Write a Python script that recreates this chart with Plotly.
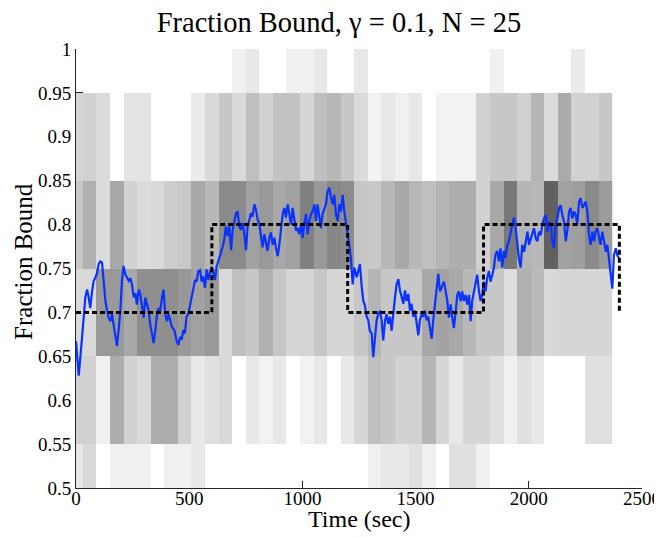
import plotly.graph_objects as go

# ---- heatmap data (occupancy density per time bin / fraction-bound bin) ----
bin_times = [60 * i for i in range(40)]          # bin centers (sec)
bound_levels = [0.5, 0.6, 0.7, 0.8, 0.9, 1.0]     # fraction-bound bin centers
N = None
dens_050 = [0.09, 0.15, N, 0.06, 0.06, 0.06, 0, 0.06, 0.06, 0.09,
            0, N, N, N, N, N, N, N, N, N,
            N, N, 0.06, 0.09, 0.09, 0.12, 0.06, 0, 0.12, 0.12,
            0.06, N, N, N, N, N, N, N, N, N]
dens_060 = [0.18, 0.18, 0.06, 0.32, 0.18, 0.15, 0.32, 0.32, 0.18, 0.09,
            0.12, 0.15, 0, 0.09, 0.05, 0.09, 0, 0.05, 0.09, 0,
            0.09, 0.16, 0.25, 0.22, 0.18, 0.18, 0.29, 0.16, 0.09, 0.16,
            0.16, 0.12, 0.06, 0.12, 0.09, 0, 0, 0, 0.12, 0.12]
dens_070 = [0.15, 0.15, 0.40, 0.40, 0.34, 0.44, 0.44, 0.44, 0.40, 0.37,
            0.40, 0.15, 0.25, 0.22, 0.31, 0.22, 0.16, 0.16, 0.22, 0.16,
            0.16, 0.22, 0.29, 0.22, 0.22, 0.22, 0.34, 0.36, 0.34, 0.28,
            0.22, 0.22, 0.13, 0.31, 0.27, 0.15, 0.16, 0.16, 0.16, 0.16]
dens_080 = [0.22, 0.31, 0.14, 0.34, 0.18, 0.14, 0.15, 0.20, 0.21, 0.34,
            0.28, 0.46, 0.46, 0.37, 0.40, 0.34, 0.37, 0.50, 0.40, 0.47,
            0.45, 0.22, 0.21, 0.28, 0.34, 0.28, 0.25, 0.29, 0.32, 0.32,
            0.18, 0.34, 0.53, 0.29, 0.28, 0.62, 0.37, 0.38, 0.46, 0.39]
dens_090 = [0.17, 0.18, 0.14, 0, 0.11, 0.11, 0, 0, 0, 0.08,
            0.15, 0.22, 0.15, 0.25, 0.18, 0.24, 0.24, 0.16, 0.25, 0.28,
            0.22, 0.14, 0.05, 0.09, 0.06, 0.09, 0, 0.05, 0.05, 0.05,
            0.18, 0.22, 0.22, 0.18, 0.29, 0.14, 0.33, 0.18, 0.18, 0.22]
dens_100 = [N, N, N, N, N, N, N, N, N, N,
            N, N, 0.06, 0.09, N, N, 0.06, 0.06, 0.09, N,
            N, 0.09, N, N, N, N, N, N, N, N,
            N, 0.06, N, N, N, N, N, 0.08, N, N]

# ---- true (stepped) fraction bound ----
step_t = [0, 600, 600, 1200, 1200, 1800, 1800, 2400, 2400]
step_v = [0.7, 0.7, 0.8, 0.8, 0.7, 0.7, 0.8, 0.8, 0.7]

# ---- measured fraction bound trace ----
line_t = [0, 6, 12, 19, 26, 34, 41, 49, 56, 63, 71, 78, 85, 93, 100, 107, 115, 122, 130, 137,
          144, 152, 159, 166, 174, 181, 188, 196, 203, 210, 218, 225, 233, 240, 247, 255, 262, 269,
          277, 284, 291, 299, 306, 313, 321, 328, 336, 343, 350, 358, 365, 372, 380, 387, 394, 402,
          409, 417, 424, 434, 445, 452, 460, 467, 474, 481, 488, 496, 503, 511, 518, 526, 533, 540,
          548, 555, 562, 570, 577, 584, 592, 599, 607, 614, 621, 628, 640, 648, 655, 662, 670, 677,
          685, 692, 699, 707, 714, 721, 729, 736, 743, 751, 758, 765, 773, 780, 788, 795, 802, 810,
          817, 824, 832, 839, 846, 854, 861, 869, 876, 883, 891, 898, 905, 913, 920, 927, 935, 942,
          950, 957, 964, 972, 979, 986, 994, 1001, 1008, 1016, 1023, 1030, 1038, 1045, 1053, 1060,
          1067, 1075, 1082, 1089, 1097, 1104, 1111, 1119, 1126, 1134, 1141, 1148, 1156, 1163, 1170,
          1178, 1185, 1192, 1200, 1207, 1214, 1222, 1229, 1240, 1247, 1254, 1262, 1269, 1276, 1284,
          1291, 1298, 1306, 1313, 1321, 1328, 1335, 1343, 1350, 1357, 1365, 1372, 1379, 1387, 1394,
          1402, 1409, 1416, 1424, 1431, 1438, 1446, 1453, 1460, 1468, 1475, 1482, 1490, 1497, 1505,
          1512, 1519, 1527, 1534, 1541, 1549, 1556, 1563, 1571, 1578, 1585, 1593, 1600, 1608, 1618,
          1625, 1633, 1640, 1647, 1655, 1662, 1669, 1677, 1684, 1691, 1699, 1706, 1713, 1721, 1728,
          1736, 1743, 1750, 1758, 1765, 1772, 1780, 1787, 1794, 1802, 1809, 1816, 1824, 1831, 1839,
          1846, 1853, 1861, 1868, 1875, 1883, 1890, 1897, 1905, 1912, 1920, 1927, 1934, 1942, 1949,
          1956, 1964, 1971, 1979, 1986, 1994, 2001, 2008, 2016, 2023, 2031, 2038, 2045, 2053, 2060,
          2067, 2075, 2082, 2089, 2097, 2104, 2111, 2119, 2126, 2134, 2141, 2148, 2156, 2163, 2170,
          2178, 2185, 2192, 2200, 2207, 2214, 2222, 2229, 2237, 2244, 2251, 2259, 2266, 2273, 2281,
          2288, 2295, 2303, 2310, 2317, 2325, 2332, 2340, 2347, 2354, 2362, 2369, 2376, 2384, 2391,
          2398]
line_v = [0.667, 0.645, 0.628, 0.648, 0.667, 0.694, 0.717, 0.726, 0.717, 0.705, 0.724, 0.736,
          0.739, 0.745, 0.755, 0.758, 0.757, 0.736, 0.713, 0.702, 0.694, 0.690, 0.698, 0.686, 0.675,
          0.662, 0.679, 0.702, 0.736, 0.753, 0.743, 0.739, 0.736, 0.739, 0.732, 0.717, 0.722, 0.709,
          0.726, 0.721, 0.709, 0.694, 0.717, 0.709, 0.702, 0.686, 0.675, 0.665, 0.679, 0.698, 0.705,
          0.702, 0.717, 0.726, 0.698, 0.690, 0.698, 0.690, 0.683, 0.680, 0.667, 0.663, 0.672, 0.669,
          0.680, 0.676, 0.695, 0.698, 0.708, 0.718, 0.726, 0.737, 0.735, 0.747, 0.748, 0.735, 0.741,
          0.728, 0.749, 0.737, 0.745, 0.752, 0.745, 0.737, 0.752, 0.757, 0.768, 0.775, 0.783, 0.798,
          0.787, 0.798, 0.771, 0.794, 0.802, 0.813, 0.815, 0.798, 0.794, 0.802, 0.790, 0.771, 0.798,
          0.806, 0.813, 0.809, 0.823, 0.817, 0.806, 0.800, 0.785, 0.774, 0.789, 0.779, 0.770, 0.785,
          0.791, 0.777, 0.785, 0.774, 0.764, 0.777, 0.796, 0.812, 0.819, 0.808, 0.823, 0.812, 0.800,
          0.819, 0.804, 0.793, 0.796, 0.789, 0.800, 0.785, 0.800, 0.812, 0.789, 0.804, 0.812, 0.815,
          0.823, 0.804, 0.823, 0.808, 0.796, 0.812, 0.819, 0.823, 0.838, 0.842, 0.831, 0.823, 0.834,
          0.812, 0.804, 0.823, 0.815, 0.834, 0.815, 0.800, 0.789, 0.777, 0.762, 0.732, 0.751, 0.740,
          0.748, 0.755, 0.729, 0.713, 0.708, 0.695, 0.691, 0.679, 0.676, 0.649, 0.672, 0.691, 0.698,
          0.702, 0.691, 0.668, 0.691, 0.698, 0.687, 0.695, 0.679, 0.702, 0.717, 0.732, 0.738, 0.725,
          0.717, 0.710, 0.725, 0.713, 0.721, 0.702, 0.710, 0.695, 0.702, 0.683, 0.674, 0.691, 0.698,
          0.695, 0.702, 0.691, 0.695, 0.683, 0.670, 0.691, 0.710, 0.729, 0.744, 0.724, 0.732, 0.735,
          0.724, 0.713, 0.694, 0.709, 0.694, 0.682, 0.701, 0.720, 0.724, 0.713, 0.724, 0.713, 0.720,
          0.709, 0.720, 0.690, 0.713, 0.724, 0.735, 0.743, 0.724, 0.713, 0.720, 0.735, 0.724, 0.739,
          0.747, 0.735, 0.743, 0.751, 0.766, 0.770, 0.758, 0.773, 0.751, 0.770, 0.762, 0.777, 0.781,
          0.792, 0.800, 0.808, 0.796, 0.777, 0.762, 0.751, 0.777, 0.769, 0.781, 0.792, 0.777, 0.784,
          0.792, 0.796, 0.784, 0.781, 0.792, 0.788, 0.800, 0.807, 0.811, 0.792, 0.803, 0.800, 0.781,
          0.773, 0.800, 0.807, 0.819, 0.822, 0.811, 0.803, 0.781, 0.792, 0.815, 0.819, 0.807, 0.815,
          0.811, 0.800, 0.826, 0.830, 0.819, 0.822, 0.826, 0.815, 0.788, 0.777, 0.792, 0.781, 0.792,
          0.796, 0.788, 0.777, 0.792, 0.781, 0.769, 0.777, 0.762, 0.746, 0.727, 0.765, 0.773, 0.765,
          0.762]

x_ticks = [0, 500, 1000, 1500, 2000, 2500]
y_ticks = [0.5, 0.55, 0.6, 0.65, 0.7, 0.75, 0.8, 0.85, 0.9, 0.95, 1.0]
y_tick_text = ["0.5", "0.55", "0.6", "0.65", "0.7", "0.75", "0.8", "0.85", "0.9", "0.95", "1"]

FONT = "Liberation Serif, Times New Roman, serif"

z = [dens_050, dens_060, dens_070, dens_080, dens_090, dens_100]

fig = go.Figure()
fig.add_trace(go.Heatmap(
    x=bin_times, y=bound_levels, z=z,
    zmin=0, zmax=1,
    colorscale=[[0, "rgb(255,255,255)"], [1, "rgb(0,0,0)"]],
    showscale=False, hoverongaps=False,
))
fig.add_trace(go.Scatter(
    x=line_t, y=line_v, mode="lines",
    line=dict(color="rgb(10,50,255)", width=2.2),
    showlegend=False,
))
fig.add_trace(go.Scatter(
    x=step_t, y=step_v, mode="lines",
    line=dict(color="black", width=3, dash="5px,3px"),
    showlegend=False,
))

# page body has an 8px margin; figure is sized so the plot area lands at x 76-642, y 49-488
W, H = 654, 529
PLOT_W, PLOT_H = 566, 439

fig.update_layout(
    width=W, height=H,
    margin=dict(l=68, r=20, t=41, b=49, autoexpand=False),
    paper_bgcolor="white", plot_bgcolor="white",
    font=dict(family=FONT, size=19, color="black"),
    title=dict(text="Fraction Bound, \u03b3 = 0.1, N = 25",
               font=dict(family=FONT, size=28.5, color="black"),
               x=(339 - 76) / PLOT_W, xref="paper", xanchor="center",
               y=1 - 14 / H, yref="container", yanchor="middle"),
    showlegend=False,
    annotations=[
        dict(text="Time (sec)", xref="paper", yref="paper", x=0.5, y=-31 / PLOT_H,
             xanchor="center", yanchor="middle", showarrow=False,
             font=dict(family=FONT, size=24, color="black")),
        dict(text="Fraction Bound", xref="paper", yref="paper", x=-52 / PLOT_W, y=0.515,
             xanchor="center", yanchor="middle", textangle=-90, showarrow=False,
             font=dict(family=FONT, size=25, color="black")),
    ],
)
fig.update_xaxes(
    range=[0, 2500], tickvals=x_ticks, ticks="inside", ticklen=7,
    tickcolor="#262626", showline=True, linecolor="#262626", linewidth=1,
    showgrid=False, zeroline=False, layer="below traces", automargin=False,
    tickfont=dict(family=FONT, size=19), ticklabelstandoff=-7,
)
fig.update_yaxes(
    range=[0.5, 1.0], tickvals=y_ticks, ticktext=y_tick_text, ticks="inside", ticklen=7,
    tickcolor="#262626", showline=True, linecolor="#262626", linewidth=1,
    showgrid=False, zeroline=False, layer="below traces", automargin=False,
    tickfont=dict(family=FONT, size=19),
)

fig.write_html("out.html")
